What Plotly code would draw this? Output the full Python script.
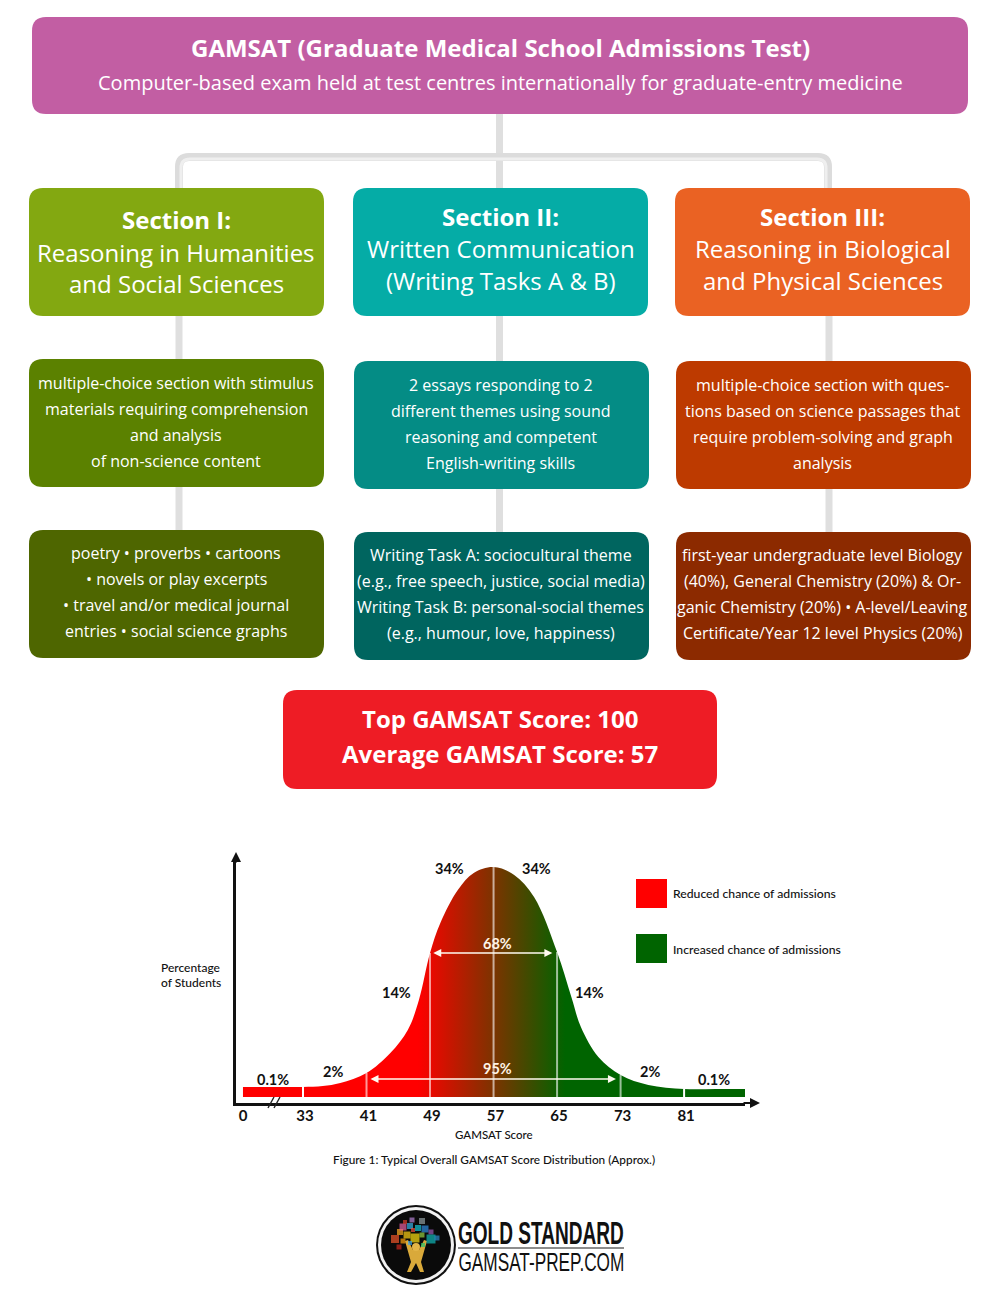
"""GAMSAT overview infographic: flow of exam sections, score card, score distribution and logo."""
import plotly.graph_objects as go

# --- text of the flow chart ---
header_title = "GAMSAT (Graduate Medical School Admissions Test)"
header_sub = "Computer-based exam held at test centres internationally for graduate-entry medicine"
section_heads = ["Section I:", "Section II:", "Section III:"]
section_names = [
    ["Reasoning in Humanities", "and Social Sciences"],
    ["Written Communication", "(Writing Tasks A & B)"],
    ["Reasoning in Biological", "and Physical Sciences"],
]
section_formats = [
    ["multiple-choice section with stimulus", "materials requiring comprehension", "and analysis", "of non-science content"],
    ["2 essays responding to 2", "different themes using sound", "reasoning and competent", "English-writing skills"],
    ["multiple-choice section with ques-", "tions based on science passages that", "require problem-solving and graph", "analysis"],
]
section_content = [
    ["poetry • proverbs • cartoons", "• novels or play excerpts", "• travel and/or medical journal", "entries • social science graphs"],
    ["Writing Task A: sociocultural theme", "(e.g., free speech, justice, social media)", "Writing Task B: personal-social themes", "(e.g., humour, love, happiness)"],
    ["first-year undergraduate level Biology", "(40%), General Chemistry (20%) & Or-", "ganic Chemistry (20%) • A-level/Leaving", "Certificate/Year 12 level Physics (20%)"],
]
score_lines = ["Top GAMSAT Score: 100", "Average GAMSAT Score: 57"]

# --- score distribution (height in px above the baseline) ---
curve_score = [25.44, 30, 33, 35.5, 37.7, 41, 44, 46.2, 47.6, 49, 50.3, 52.5, 54.5, 57,
               59.6, 62.1, 65, 66.8, 68, 70.2, 73, 76.5, 81, 85, 88.67]
curve_height = [10, 10, 10, 11, 14, 24, 44, 67, 97, 144, 174, 207, 224, 230,
                222, 200, 145, 100, 70, 40, 22, 12, 8, 8, 8]
divider_score = [41, 49, 57, 65, 73]
divider_height = [24, 144, 230, 145, 22]
edge_score = [33, 81]
edge_height = [10, 8]
tick_pos = [25.2, 33, 41, 49, 57, 65, 73, 81]
tick_text = ["0", "33", "41", "49", "57", "65", "73", "81"]

PAGE_X, PAGE_Y = 8, 8  # default body margin of the page
W, H = 984, 1284
PX_PER_SCORE = 7.94


def px_x(v):
    return (v - PAGE_X) / W


def px_y(v):
    return 1 - (v - PAGE_Y) / H


def score_x(score):
    return 303 + (score - 33) * PX_PER_SCORE


def rounded(x0, y0, x1, y1, r=14):
    return (f"M{x0+r},{y0} L{x1-r},{y0} Q{x1},{y0} {x1},{y0+r} L{x1},{y1-r} Q{x1},{y1} {x1-r},{y1} "
            f"L{x0+r},{y1} Q{x0},{y1} {x0},{y1-r} L{x0},{y0+r} Q{x0},{y0} {x0+r},{y0} Z")


shapes = []
annotations = []


def box(x0, y0, x1, y1, color, r=14):
    shapes.append(dict(type="path", path=rounded(x0, y0, x1, y1, r), fillcolor=color, line_width=0,
                       xref="x", yref="y", layer="below"))


def connector(path, color="#dfdfdf", width=7):
    shapes.append(dict(type="path", path=path, line=dict(color=color, width=width),
                       xref="x", yref="y", layer="below"))


def label(x, y, text, size, color="white", family="Open Sans", anchor="center", weight=None):
    font = dict(family=family, size=size, color=color)
    if weight:
        font["weight"] = weight
    annotations.append(dict(x=x, y=y, xref="x", yref="y", text=text, showarrow=False, xanchor=anchor,
                            yanchor="middle", font=font))


def arrow(x, y, ax, ay, color, width, side="end", head=2, size=1.0):
    annotations.append(dict(x=x, y=y, ax=ax, ay=ay, xref="x", yref="y", axref="x", ayref="y", text="",
                            showarrow=True, arrowhead=head, arrowside=side, arrowwidth=width,
                            arrowsize=size, arrowcolor=color, standoff=0, startstandoff=0))


def disc(x0, x1, y0, y1, color):
    shapes.append(dict(type="circle", x0=x0, x1=x1, y0=y0, y1=y1, fillcolor=color, line_width=0,
                       xref="x", yref="y", layer="below"))


# connectors
connector("M499.5,114 L499.5,188")
connector("M179,188 L179,167 Q179,157 189,157 L818,157 Q828,157 828,167 L828,188", "#dcdcdc", 8)
connector("M181,188 L181,168 Q181,159 190,159 L817,159 Q826,159 826,168 L826,188", "#efefef", 3)
for cx in (179, 499.5, 829):
    top = 316
    bot = 359 if cx == 179 else 361
    connector(f"M{cx},{top} L{cx},{bot}")
    connector(f"M{cx},{bot + 128} L{cx},{bot + 171}")

# header
box(32, 17, 968, 114, "#c25ea3")
label(500, 47, f"<b>{header_title}</b>", 24)
label(500, 82, header_sub, 20)

# the three columns
columns = [
    dict(x0=29, cx=176, dy=0, colors=["#83a811", "#5b8100", "#4e6600"], head_y=[219, 252, 283]),
    dict(x0=353, cx=500.5, dy=2, colors=["#05aca6", "#048c85", "#00655f"], head_y=[216, 248, 280]),
    dict(x0=675, cx=822.5, dy=2, colors=["#ea6223", "#bd3a00", "#8c2a00"], head_y=[216, 248, 280]),
]
for i, col in enumerate(columns):
    x0 = col["x0"]
    inset = 0 if i == 0 else 1
    box(x0, 188, x0 + 295, 316, col["colors"][0])
    box(x0 + inset, 359 + col["dy"], x0 + inset + 295, 487 + col["dy"], col["colors"][1])
    box(x0 + inset, 530 + col["dy"], x0 + inset + 295, 658 + col["dy"], col["colors"][2])
    label(col["cx"], col["head_y"][0], f"<b>{section_heads[i]}</b>", 24)
    for y, line in zip(col["head_y"][1:], section_names[i]):
        label(col["cx"], y, line, 24)
    for k, line in enumerate(section_formats[i]):
        label(col["cx"], 383 + col["dy"] + 26 * k, line, 16)
    for k, line in enumerate(section_content[i]):
        label(col["cx"], 553 + col["dy"] + 26 * k, line, 16)

# score card
box(283, 690, 717, 789, "#ee1c25")
label(500, 718, f"<b>{score_lines[0]}</b>", 24)
label(500, 753, f"<b>{score_lines[1]}</b>", 24)

# chart texts
CHART_FONT = "Lato"
INK = "#111111"
for x, y, t in [(273, 1079, "0.1%"), (333, 1071, "2%"), (396, 992, "14%"), (449, 868, "34%"),
                (536, 868, "34%"), (589, 992, "14%"), (650, 1071, "2%"), (714, 1079, "0.1%")]:
    label(x, y, t, 14.5, INK, CHART_FONT, weight=700)
label(497, 943, "68%", 14.5, "#fff3e6", CHART_FONT, weight=700)
label(497, 1068, "95%", 14.5, "#fff3e6", CHART_FONT, weight=700)
label(159, 967, "Percentage", 12, INK, CHART_FONT, "left", 500)
label(159, 982, "of Students", 12, INK, CHART_FONT, "left", 500)
label(494, 1134, "GAMSAT Score", 11.5, INK, CHART_FONT, weight=500)
label(494, 1159, "Figure 1: Typical Overall GAMSAT Score Distribution (Approx.)", 11.8, INK, CHART_FONT, weight=500)

# legend squares
shapes.append(dict(type="rect", x0=636, x1=667, y0=879, y1=908, fillcolor="#ff0000", line_width=0, xref="x", yref="y"))
shapes.append(dict(type="rect", x0=636, x1=667, y0=934, y1=963, fillcolor="#006400", line_width=0, xref="x", yref="y"))
label(671, 893, "Reduced chance of admissions", 12.2, INK, CHART_FONT, "left", 500)
label(671, 949, "Increased chance of admissions", 12.2, INK, CHART_FONT, "left", 500)

# range arrows, axis heads and the break mark
arrow(score_x(49.4), 953, score_x(64.6), 953, "#fffaf0", 1.6, "end+start")
arrow(score_x(41.5), 1079, score_x(72.6), 1079, "#fffaf0", 1.6, "end+start")
arrow(236, 852, 236, 864, "#111111", 2)
arrow(760, 1103, 742, 1103, "#111111", 2)
for bx in (268, 274):
    shapes.append(dict(type="line", x0=bx, x1=bx + 6, y0=1108, y1=1097, line=dict(color="#222222", width=1.4),
                       xref="x", yref="y"))

# logo
disc(376, 456, 1205, 1285, "#111111")
disc(378, 454, 1207, 1283, "#f2f2f2")
disc(381, 451, 1210, 1280, "#0a0a0a")
shapes.append(dict(type="path", xref="x", yref="y", fillcolor="#d9a93a", line_width=0, layer="below",
                   path="M405,1241 L408,1240 L413,1250 L419,1250 L424,1240 L427,1241 L423,1255 L421,1262 L424,1272 "
                        "L420,1272 L416,1263 L411,1272 L407,1272 L411,1262 L409,1255 Z"))
disc(412, 420, 1243, 1251, "#e3b548")
shapes.append(dict(type="line", x0=458, x1=624, y0=1248, y1=1248, line=dict(color="#666666", width=1.5), xref="x", yref="y"))
label(541, 1233, "<b>GOLD STANDARD</b>", 31, "#111111", "Liberation Sans")
label(541, 1262, "GAMSAT-PREP.COM", 25, "#111111", "Liberation Sans")

logo_x = [395, 400, 403, 407, 410, 412, 405, 415, 418, 422, 425, 422, 431, 431, 437, 399, 403, 410, 423, 413]
logo_y = [1239, 1232, 1227, 1235, 1226, 1220, 1222, 1238, 1228, 1221, 1229, 1235, 1232, 1239, 1238, 1247, 1241, 1243, 1245, 1230]
logo_size = [8, 6, 7, 7, 6, 5, 4, 9, 6, 6, 7, 5, 5, 9, 5, 5, 5, 4, 4, 4]
logo_color = ["#f0562a", "#ffae1f", "#e8609f", "#ffd012", "#38b0e6", "#b280d2", "#d83a2a", "#ffdf10", "#12c4d4",
              "#8f9ca0", "#2f8be0", "#96d040", "#9a5cb8", "#0fb8b8", "#2a8ccc", "#c8261c", "#ffa10c", "#38a4ec",
              "#27c46c", "#f04c3a"]

fig = go.Figure()

# logo tiles on top of the disc, this trace also makes the pixel axes exist
fig.add_trace(go.Scatter(x=logo_x, y=logo_y, mode="markers", xaxis="x", yaxis="y", hoverinfo="skip",
                         marker=dict(symbol="square", size=logo_size, color=logo_color, line_width=0)))

fig.add_trace(go.Scatter(
    x=curve_score, y=curve_height, mode="lines", xaxis="x2", yaxis="y2", hoverinfo="skip",
    line=dict(width=0, shape="spline", smoothing=1.0), fill="tozeroy",
    fillgradient=dict(type="horizontal", start=47.5, stop=66,
                      colorscale=[[0, "#ff0000"], [1, "#006400"]]),
))


def stems(xs, ys):
    out_x, out_y = [], []
    for a, b in zip(xs, ys):
        out_x += [a, a, None]
        out_y += [0, b, None]
    return out_x, out_y


sx, sy = stems(divider_score, divider_height)
fig.add_trace(go.Scatter(x=sx, y=sy, mode="lines", xaxis="x2", yaxis="y2", hoverinfo="skip",
                         line=dict(color="rgba(255,255,255,0.6)", width=2)))
sx, sy = stems(edge_score, edge_height)
fig.add_trace(go.Scatter(x=sx, y=sy, mode="lines", xaxis="x2", yaxis="y2", hoverinfo="skip",
                         line=dict(color="white", width=2)))

fig.update_layout(
    width=W, height=H, margin=dict(l=0, r=0, t=0, b=0), showlegend=False,
    paper_bgcolor="white", plot_bgcolor="white",
    shapes=shapes, annotations=annotations,
    xaxis=dict(range=[PAGE_X, PAGE_X + W], visible=False, domain=[0, 1]),
    yaxis=dict(range=[PAGE_Y + H, PAGE_Y], visible=False, domain=[0, 1]),
    xaxis2=dict(
        domain=[px_x(236), px_x(745)], range=[33 + (236 - 303) / PX_PER_SCORE, 88.67], anchor="y2",
        showline=True, linecolor="#111111", linewidth=2.5, showgrid=False, zeroline=False,
        tickmode="array", tickvals=tick_pos, ticktext=tick_text, ticks="",
        tickfont=dict(family=CHART_FONT, size=15, color=INK, weight=700),
        ticklabelstandoff=-3, ticklabelshift=2,
    ),
    yaxis2=dict(
        domain=[px_y(1103), px_y(860)], range=[-6, 237], anchor="x2",
        showline=True, linecolor="#111111", linewidth=2.5, showgrid=False, zeroline=False,
        showticklabels=False, ticks="",
    ),
)

# the logo lettering is very condensed, no installed font has that cut
squeeze = """
document.querySelectorAll('.annotation-text').forEach(function (t) {
  if (t.textContent === 'GOLD STANDARD' || t.textContent === 'GAMSAT-PREP.COM') {
    t.style.transformBox = 'fill-box';
    t.style.transformOrigin = 'center';
    t.style.transform = 'scaleX(' + (166 / t.getBBox().width) + ')';
  }
});
"""
fig.write_html("out.html", config={"displayModeBar": False}, post_script=squeeze)
